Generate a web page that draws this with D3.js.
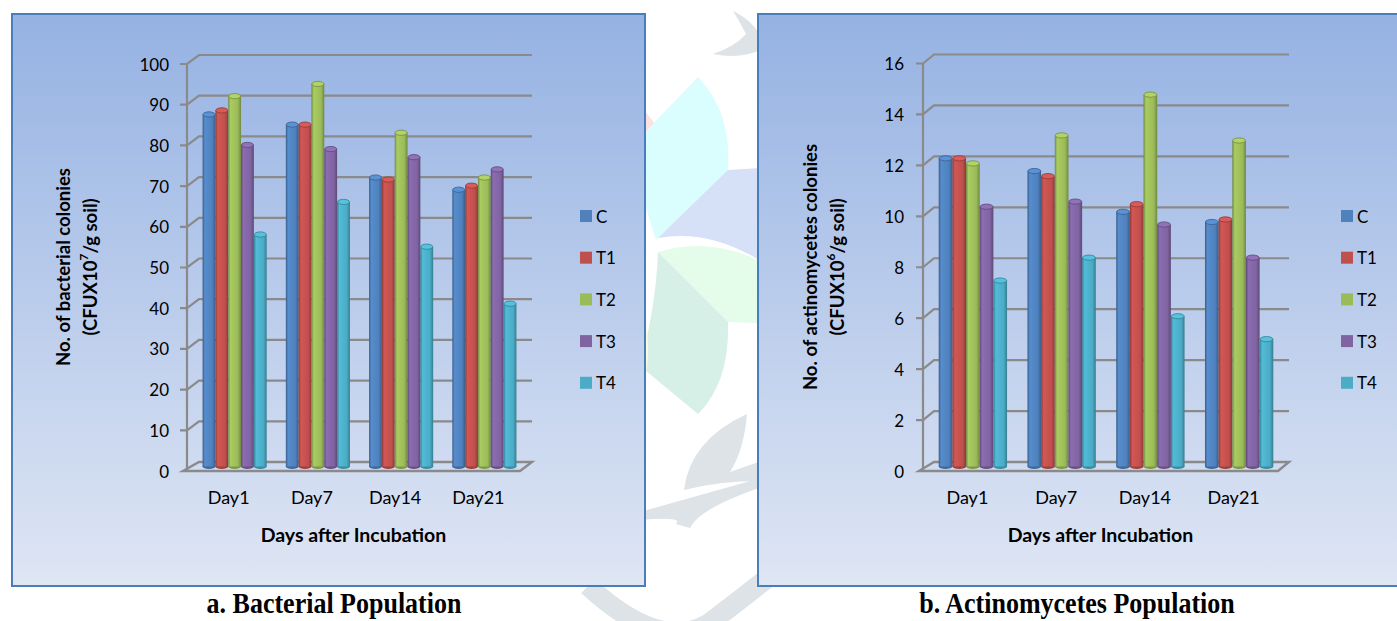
<!DOCTYPE html>
<html>
<head>
<meta charset="utf-8">
<script src="https://cdn.jsdelivr.net/npm/d3@7"></script>
<style>
  body { margin: 0; background: #ffffff; }
  svg { display: block; font-family: Lato, "Open Sans", sans-serif; }
</style>
</head>
<body>
<svg id="fig" width="1397" height="621"></svg>
<script>
// ---- data ----
const days = ["Day1", "Day7", "Day14", "Day21"];
const seriesNames = ["C", "T1", "T2", "T3", "T4"];
const seriesColors = ["#4f81bd", "#c0504d", "#9bbb59", "#8064a2", "#4bacc6"];

// bacterial population (CFU x 10^7 / g soil)
const bactC  = [86.5, 84, 71, 68];
const bactT1 = [87.5, 84, 70.5, 69];
const bactT2 = [91, 94, 82, 71];
const bactT3 = [79, 78, 76, 73];
const bactT4 = [57, 65, 54, 40];
const bactTicks = [0, 10, 20, 30, 40, 50, 60, 70, 80, 90, 100];

// actinomycetes population (CFU x 10^6 / g soil)
const actC  = [12.1, 11.6, 10.0, 9.6];
const actT1 = [12.1, 11.4, 10.3, 9.7];
const actT2 = [11.9, 13.0, 14.6, 12.8];
const actT3 = [10.2, 10.4, 9.5, 8.2];
const actT4 = [7.3, 8.2, 5.9, 5.0];
const actTicks = [0, 2, 4, 6, 8, 10, 12, 14, 16];

const svg = d3.select("#fig");
const defs = svg.append("defs");

// panel background gradient
const bg = defs.append("linearGradient").attr("id", "panelBg")
  .attr("x1", 0).attr("y1", 0).attr("x2", 0).attr("y2", 1);
bg.append("stop").attr("offset", "0%").attr("stop-color", "#95b2e3");
bg.append("stop").attr("offset", "100%").attr("stop-color", "#dfe6f4");

// cylinder shading per series colour
seriesColors.forEach((c, i) => {
  const g = defs.append("linearGradient").attr("id", "cyl" + i)
    .attr("x1", 0).attr("y1", 0).attr("x2", 1).attr("y2", 0);
  const base = d3.color(c);
  g.append("stop").attr("offset", "0%").attr("stop-color", base.darker(0.9));
  g.append("stop").attr("offset", "18%").attr("stop-color", base.brighter(0.25));
  g.append("stop").attr("offset", "40%").attr("stop-color", base.brighter(0.15));
  g.append("stop").attr("offset", "75%").attr("stop-color", base);
  g.append("stop").attr("offset", "100%").attr("stop-color", base.darker(0.9));
});

// ---- faint logo behind the panels ----
const wm = svg.append("g").attr("class", "logo");
wm.append("path").attr("d", "M636,100 L673,146 Q656,166 648,192 L636,192 Z").attr("fill", "#fde1e1");
wm.append("path").attr("d", "M656,240 L628,150 L698,77 Q732,112 728,171 Z").attr("fill", "#dafdfd");
wm.append("path").attr("d", "M658,238 L728,170 L790,166 L790,282 Q722,226 658,238 Z").attr("fill", "#d6e0f6");
wm.append("path").attr("d", "M658,252 Q722,232 790,278 L790,324 L728,322 Z").attr("fill", "#e4fcea");
wm.append("path").attr("d", "M658,252 L728,322 Q730,382 698,414 L640,366 Q656,306 658,252 Z").attr("fill", "#d7f0e7");
wm.append("path").attr("d", "M640,300 Q652,336 646,374 L636,372 Z").attr("fill", "#fdfbd9");
// leaves and stem
wm.append("path").attr("d", "M733,11 Q760,24 764,48 Q742,60 713,54 Q736,46 746,34 Q740,22 733,11 Z").attr("fill", "#dde3e6");
wm.append("path").attr("d", "M747,414 Q744,450 730,472 Q758,462 790,452 L790,482 Q730,478 684,490 Q690,440 747,414 Z").attr("fill", "#dde3e6");
wm.append("path").attr("d", "M640,512 Q700,495 790,470 L790,478 Q700,505 690,528 L676,524 Q684,516 640,520 Z").attr("fill", "#dde3e6");
wm.append("path").attr("d", "M588,586 Q660,652 708,624 Q740,600 790,560").attr("fill", "none")
  .attr("stroke", "#dde3e6").attr("stroke-width", 20);

// ---- one 3-D clustered column chart ----
function drawChart(opt) {
  const g = svg.append("g");
  g.append("rect")
    .attr("x", opt.panel[0]).attr("y", opt.panel[1])
    .attr("width", opt.panel[2]).attr("height", opt.panel[3])
    .attr("fill", "url(#panelBg)").attr("stroke", "#4a7ebb").attr("stroke-width", 2);

  const dx = opt.depth[0], dy = opt.depth[1];
  const y = d3.scaleLinear().domain([0, opt.max]).range([opt.floorY, opt.topY]);
  const x = d3.scaleBand().domain(days).range([opt.x0, opt.x1]);
  const groupW = x.bandwidth() * 0.77;
  const xs = d3.scaleBand().domain(seriesNames).range([0, groupW]);

  const gridColor = "#8a8a8a";
  // gridlines on the back wall, with their bends over the side wall
  g.append("g").selectAll("path").data(opt.ticks.filter(t => t > 0)).join("path")
    .attr("d", t => `M${opt.x0 - 7},${y(t)} L${opt.x0},${y(t)} L${opt.x0 + dx},${y(t) + dy} L${opt.x1 + dx},${y(t) + dy}`)
    .attr("fill", "none").attr("stroke", gridColor).attr("stroke-width", 2.2);
  // side wall edge
  g.append("line")
    .attr("x1", opt.x0).attr("x2", opt.x0)
    .attr("y1", y(0)).attr("y2", y(opt.max))
    .attr("stroke", gridColor).attr("stroke-width", 2.2);
  // floor
  g.append("path")
    .attr("d", `M${opt.x0 - 4},${y(0)} L${opt.x1},${y(0)} L${opt.x1 + dx},${y(0) + dy} L${opt.x0 + dx},${y(0) + dy} Z`)
    .attr("fill", "none").attr("stroke", gridColor).attr("stroke-width", 2.4);

  // tick labels
  g.append("g").selectAll("text").data(opt.ticks).join("text")
    .attr("x", opt.labelX).attr("y", t => y(t))
    .attr("text-anchor", "end").attr("dominant-baseline", "central")
    .attr("font-size", 17).attr("fill", "#000")
    .text(t => t);

  // bars (cylinders sit at half depth)
  const bars = [];
  opt.series.forEach((vals, si) => {
    vals.forEach((v, di) => bars.push({ s: si, d: days[di], v }));
  });
  const ry = 2.6;
  const bar = g.append("g").selectAll("g").data(bars).join("g")
    .attr("transform", d => {
      const bx = x(d.d) + (x.bandwidth() - groupW) / 2 + xs(seriesNames[d.s]) + dx / 2;
      return `translate(${bx},${dy / 2})`;
    });
  const bw = xs.bandwidth();
  bar.append("ellipse")
    .attr("cx", bw / 2).attr("cy", y(0)).attr("rx", bw / 2).attr("ry", ry)
    .attr("fill", d => d3.color(seriesColors[d.s]).darker(0.6));
  bar.append("rect")
    .attr("x", 0).attr("width", bw)
    .attr("y", d => y(d.v)).attr("height", d => y(0) - y(d.v))
    .attr("fill", d => `url(#cyl${d.s})`);
  bar.append("ellipse")
    .attr("cx", bw / 2).attr("cy", d => y(d.v)).attr("rx", bw / 2 - 0.4).attr("ry", ry)
    .attr("fill", d => d3.color(seriesColors[d.s]).brighter(0.35))
    .attr("stroke", d => d3.color(seriesColors[d.s]).darker(0.7)).attr("stroke-width", 0.9);

  // category labels
  g.append("g").selectAll("text").data(days).join("text")
    .attr("x", d => x(d) + x.bandwidth() / 2).attr("y", opt.catY)
    .attr("text-anchor", "middle").attr("dominant-baseline", "central")
    .attr("font-size", 18).text(d => d);

  // x title
  g.append("text")
    .attr("x", (opt.x0 + opt.x1) / 2).attr("y", opt.xTitleY)
    .attr("text-anchor", "middle").attr("dominant-baseline", "central")
    .attr("font-size", 19.5).attr("font-weight", "bold")
    .text("Days after Incubation");

  // y title (two lines, rotated)
  const yt = g.append("g");
  yt.append("text")
    .attr("transform", `translate(${opt.yTitleX[0]},${opt.yTitleY}) rotate(-90)`)
    .attr("text-anchor", "middle").attr("dominant-baseline", "central")
    .attr("font-size", 18.5).attr("font-weight", "bold")
    .text(opt.yTitle1);
  const t2 = yt.append("text")
    .attr("transform", `translate(${opt.yTitleX[1]},${opt.yTitleY}) rotate(-90)`)
    .attr("text-anchor", "middle").attr("dominant-baseline", "central")
    .attr("font-size", 18.5).attr("font-weight", "bold");
  t2.append("tspan").text("(CFUX10");
  t2.append("tspan").attr("font-size", 12).attr("dy", -7).text(opt.exponent);
  t2.append("tspan").attr("dy", 7).text("/g soil)");

  // legend
  const lg = g.append("g").selectAll("g").data(seriesNames).join("g")
    .attr("transform", (d, i) => `translate(${opt.legendX},${216 + i * 41.7})`);
  lg.append("rect").attr("x", 0).attr("y", -6).attr("width", 12).attr("height", 12)
    .attr("fill", (d, i) => seriesColors[i]);
  lg.append("text").attr("x", 16).attr("y", 0).attr("dominant-baseline", "central")
    .attr("font-size", 17).text(d => d);

  // caption under the panel
  svg.append("text")
    .attr("transform", `translate(${opt.captionX},613) scale(1,1.12)`)
    .attr("text-anchor", "middle")
    .attr("font-family", "'Liberation Serif', 'Times New Roman', serif")
    .attr("font-weight", "bold").attr("font-size", 26)
    .text(opt.caption);
}

drawChart({
  panel: [12, 14, 633, 572],
  x0: 187, x1: 520, floorY: 471, topY: 64, depth: [12, -9],
  max: 100, ticks: bactTicks, labelX: 169,
  series: [bactC, bactT1, bactT2, bactT3, bactT4],
  catY: 497, xTitleY: 534,
  yTitleX: [63, 90], yTitleY: 267,
  yTitle1: "No. of bacterial colonies", exponent: "7",
  legendX: 580,
  captionX: 334, caption: "a. Bacterial Population"
});

drawChart({
  panel: [758, 14, 660, 572],
  x0: 923, x1: 1278, floorY: 471, topY: 63.5, depth: [11, -9],
  max: 16, ticks: actTicks, labelX: 904,
  series: [actC, actT1, actT2, actT3, actT4],
  catY: 497, xTitleY: 534,
  yTitleX: [810, 837], yTitleY: 267,
  yTitle1: "No. of actinomycetes colonies", exponent: "6",
  legendX: 1341,
  captionX: 1077, caption: "b. Actinomycetes Population"
});
</script>
</body>
</html>
